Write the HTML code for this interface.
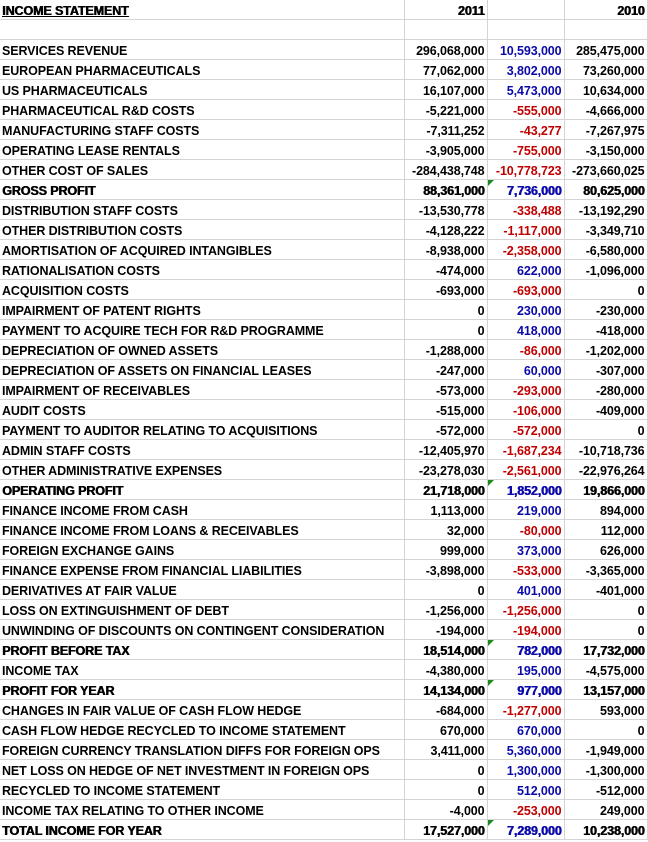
<!DOCTYPE html>
<html><head><meta charset="utf-8"><style>
body{margin:0;width:648px;height:842px;background:#fff;overflow:hidden;font-family:"Liberation Sans",Arial,sans-serif;color:#000}
table{border-collapse:collapse;table-layout:fixed;position:absolute;left:0;top:0}
td{height:15px;border:1px solid #d4d4d4;padding:4px 2px 0 2px;white-space:nowrap;overflow:hidden;line-height:15px;border-left:none;border-top:none;font-weight:700;font-size:12.5px;letter-spacing:-0.1px}
td.n{text-align:right;position:relative;font-size:12.5px;letter-spacing:-0.1px}
.b{color:#0a0aa8}.r{color:#c00000}
.h td{text-shadow:0.6px 0 0 currentColor}
.g::before{content:"";position:absolute;left:0;top:0;border-top:6px solid #1a8a1a;border-right:6px solid transparent}
</style></head><body>
<table>
<colgroup><col style="width:404px"><col style="width:83px"><col style="width:77px"><col style="width:83px"></colgroup>
<tr class="h"><td style="text-decoration:underline">INCOME STATEMENT</td><td class="n">2011</td><td></td><td class="n">2010</td></tr>
<tr><td></td><td></td><td></td><td></td></tr>
<tr><td>SERVICES REVENUE</td><td class="n">296,068,000</td><td class="n b">10,593,000</td><td class="n">285,475,000</td></tr>
<tr><td>EUROPEAN PHARMACEUTICALS</td><td class="n">77,062,000</td><td class="n b">3,802,000</td><td class="n">73,260,000</td></tr>
<tr><td>US PHARMACEUTICALS</td><td class="n">16,107,000</td><td class="n b">5,473,000</td><td class="n">10,634,000</td></tr>
<tr><td>PHARMACEUTICAL R&amp;D COSTS</td><td class="n">-5,221,000</td><td class="n r">-555,000</td><td class="n">-4,666,000</td></tr>
<tr><td>MANUFACTURING STAFF COSTS</td><td class="n">-7,311,252</td><td class="n r">-43,277</td><td class="n">-7,267,975</td></tr>
<tr><td>OPERATING LEASE RENTALS</td><td class="n">-3,905,000</td><td class="n r">-755,000</td><td class="n">-3,150,000</td></tr>
<tr><td>OTHER COST OF SALES</td><td class="n">-284,438,748</td><td class="n r">-10,778,723</td><td class="n">-273,660,025</td></tr>
<tr class="h"><td>GROSS PROFIT</td><td class="n">88,361,000</td><td class="n b g">7,736,000</td><td class="n">80,625,000</td></tr>
<tr><td>DISTRIBUTION STAFF COSTS</td><td class="n">-13,530,778</td><td class="n r">-338,488</td><td class="n">-13,192,290</td></tr>
<tr><td>OTHER DISTRIBUTION COSTS</td><td class="n">-4,128,222</td><td class="n r">-1,117,000</td><td class="n">-3,349,710</td></tr>
<tr><td>AMORTISATION OF ACQUIRED INTANGIBLES</td><td class="n">-8,938,000</td><td class="n r">-2,358,000</td><td class="n">-6,580,000</td></tr>
<tr><td>RATIONALISATION COSTS</td><td class="n">-474,000</td><td class="n b">622,000</td><td class="n">-1,096,000</td></tr>
<tr><td>ACQUISITION COSTS</td><td class="n">-693,000</td><td class="n r">-693,000</td><td class="n">0</td></tr>
<tr><td>IMPAIRMENT OF PATENT RIGHTS</td><td class="n">0</td><td class="n b">230,000</td><td class="n">-230,000</td></tr>
<tr><td>PAYMENT TO ACQUIRE TECH FOR R&amp;D PROGRAMME</td><td class="n">0</td><td class="n b">418,000</td><td class="n">-418,000</td></tr>
<tr><td>DEPRECIATION OF OWNED ASSETS</td><td class="n">-1,288,000</td><td class="n r">-86,000</td><td class="n">-1,202,000</td></tr>
<tr><td>DEPRECIATION OF ASSETS ON FINANCIAL LEASES</td><td class="n">-247,000</td><td class="n b">60,000</td><td class="n">-307,000</td></tr>
<tr><td>IMPAIRMENT OF RECEIVABLES</td><td class="n">-573,000</td><td class="n r">-293,000</td><td class="n">-280,000</td></tr>
<tr><td>AUDIT COSTS</td><td class="n">-515,000</td><td class="n r">-106,000</td><td class="n">-409,000</td></tr>
<tr><td>PAYMENT TO AUDITOR RELATING TO ACQUISITIONS</td><td class="n">-572,000</td><td class="n r">-572,000</td><td class="n">0</td></tr>
<tr><td>ADMIN STAFF COSTS</td><td class="n">-12,405,970</td><td class="n r">-1,687,234</td><td class="n">-10,718,736</td></tr>
<tr><td>OTHER ADMINISTRATIVE EXPENSES</td><td class="n">-23,278,030</td><td class="n r">-2,561,000</td><td class="n">-22,976,264</td></tr>
<tr class="h"><td>OPERATING PROFIT</td><td class="n">21,718,000</td><td class="n b g">1,852,000</td><td class="n">19,866,000</td></tr>
<tr><td>FINANCE INCOME FROM CASH</td><td class="n">1,113,000</td><td class="n b">219,000</td><td class="n">894,000</td></tr>
<tr><td>FINANCE INCOME FROM LOANS &amp; RECEIVABLES</td><td class="n">32,000</td><td class="n r">-80,000</td><td class="n">112,000</td></tr>
<tr><td>FOREIGN EXCHANGE GAINS</td><td class="n">999,000</td><td class="n b">373,000</td><td class="n">626,000</td></tr>
<tr><td>FINANCE EXPENSE FROM FINANCIAL LIABILITIES</td><td class="n">-3,898,000</td><td class="n r">-533,000</td><td class="n">-3,365,000</td></tr>
<tr><td>DERIVATIVES AT FAIR VALUE</td><td class="n">0</td><td class="n b">401,000</td><td class="n">-401,000</td></tr>
<tr><td>LOSS ON EXTINGUISHMENT OF DEBT</td><td class="n">-1,256,000</td><td class="n r">-1,256,000</td><td class="n">0</td></tr>
<tr><td>UNWINDING OF DISCOUNTS ON CONTINGENT CONSIDERATION</td><td class="n">-194,000</td><td class="n r">-194,000</td><td class="n">0</td></tr>
<tr class="h"><td>PROFIT BEFORE TAX</td><td class="n">18,514,000</td><td class="n b g">782,000</td><td class="n">17,732,000</td></tr>
<tr><td>INCOME TAX</td><td class="n">-4,380,000</td><td class="n b">195,000</td><td class="n">-4,575,000</td></tr>
<tr class="h"><td>PROFIT FOR YEAR</td><td class="n">14,134,000</td><td class="n b g">977,000</td><td class="n">13,157,000</td></tr>
<tr><td>CHANGES IN FAIR VALUE OF CASH FLOW HEDGE</td><td class="n">-684,000</td><td class="n r">-1,277,000</td><td class="n">593,000</td></tr>
<tr><td>CASH FLOW HEDGE RECYCLED TO INCOME STATEMENT</td><td class="n">670,000</td><td class="n b">670,000</td><td class="n">0</td></tr>
<tr><td>FOREIGN CURRENCY TRANSLATION DIFFS FOR FOREIGN OPS</td><td class="n">3,411,000</td><td class="n b">5,360,000</td><td class="n">-1,949,000</td></tr>
<tr><td>NET LOSS ON HEDGE OF NET INVESTMENT IN FOREIGN OPS</td><td class="n">0</td><td class="n b">1,300,000</td><td class="n">-1,300,000</td></tr>
<tr><td>RECYCLED TO INCOME STATEMENT</td><td class="n">0</td><td class="n b">512,000</td><td class="n">-512,000</td></tr>
<tr><td>INCOME TAX RELATING TO OTHER INCOME</td><td class="n">-4,000</td><td class="n r">-253,000</td><td class="n">249,000</td></tr>
<tr class="h"><td>TOTAL INCOME FOR YEAR</td><td class="n">17,527,000</td><td class="n b g">7,289,000</td><td class="n">10,238,000</td></tr>
</table>
</body></html>
